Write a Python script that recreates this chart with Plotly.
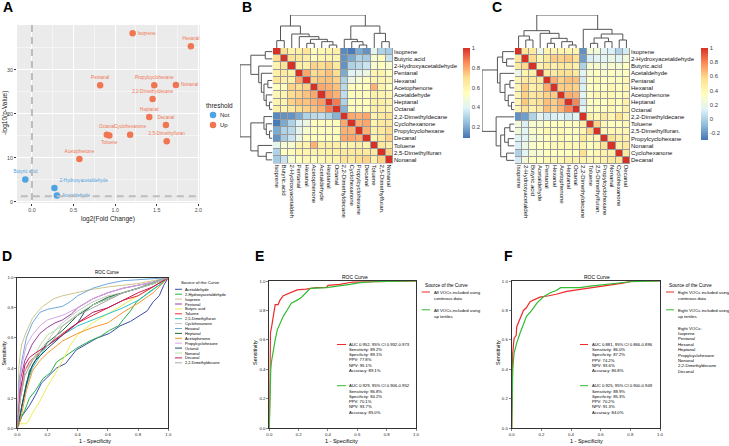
import math
import plotly.graph_objects as go

W, H = 729, 446
FONT = "Liberation Sans, Arial, sans-serif"

# ---------------- Panel A : volcano ----------------
vol_names = ["Isoprene", "Hexanal", "Pentanal", "Propylcyclohexane", "Nonanal",
             "2,2-Dimethyldecane", "Heptanal", "Decanal", "Octanal", "Toluene",
             "Cyclohexanone", "2,5-Dimethylfuran", "Acetophenone", "Butyric acid",
             "2-Hydroxyacetaldehyde", "Acetaldehyde"]
vol_log2fc = [1.21, 1.91, 0.82, 1.47, 1.73, 1.45, 1.41, 1.61, 0.90, 0.93,
              1.18, 1.62, 0.57, -0.08, 0.27, 0.30]
vol_neglog10p = [38.3, 35.4, 26.5, 26.5, 26.6, 23.4, 19.3, 17.5, 15.3, 15.1,
                 15.3, 13.8, 9.75, 5.1, 3.2, 1.5]
vol_threshold = ["Up"] * 13 + ["Not"] * 3
fc_cutoff = 0.0
p_cutoff = 0.05
vol_ticks_x = [0, 0.5, 1.0, 1.5, 2.0]
vol_ticks_y = [0, 10, 20, 30]

# ---------------- Panel B : correlation (continuous) ----------------
b_labels = ["Isoprene", "Butyric.acid", "2-Hydroxyacetaldehyde", "Pentanal", "Hexanal",
            "Acetophenone", "Acetaldehyde", "Heptanal", "Octanal", "2,2-Dimethyldecane",
            "Cyclohexanone", "Propylcyclohexane", "Decanal", "Toluene", "2,5-Dimethylfuran",
            "Nonanal"]
b_col_labels = ["Isoprene", "Butyric.acid", "2-Hydroxyacetaldeh", "Pentanal", "Hexanal",
                "Acetophenone", "Acetaldehyde", "Heptanal", "Octanal", "2,2-Dimethyldecane",
                "Cyclohexanone", "Propylcyclohexane", "Decanal", "Toluene", "2,5-Dimethylfuran.",
                "Nonanal"]
b_upper = [
    [0.70, 0.60, 0.62, 0.67, 0.55, 0.58, 0.60, 0.62, 0.13, 0.10, 0.20, 0.15, 0.42, 0.30, 0.28],
    [0.68, 0.65, 0.62, 0.55, 0.60, 0.60, 0.60, 0.15, 0.20, 0.30, 0.28, 0.50, 0.55, 0.35],
    [0.62, 0.62, 0.72, 0.70, 0.72, 0.65, 0.15, 0.30, 0.32, 0.35, 0.50, 0.55, 0.50],
    [0.80, 0.70, 0.72, 0.75, 0.70, 0.20, 0.40, 0.42, 0.45, 0.60, 0.60, 0.55],
    [0.72, 0.75, 0.75, 0.72, 0.30, 0.45, 0.50, 0.55, 0.60, 0.60, 0.58],
    [0.80, 0.78, 0.75, 0.32, 0.55, 0.55, 0.55, 0.78, 0.60, 0.55],
    [0.82, 0.78, 0.33, 0.55, 0.55, 0.55, 0.62, 0.60, 0.58],
    [0.88, 0.30, 0.55, 0.55, 0.55, 0.62, 0.62, 0.60],
    [0.22, 0.55, 0.55, 0.55, 0.62, 0.62, 0.60],
    [0.80, 0.78, 0.80, 0.60, 0.65, 0.68],
    [0.78, 0.80, 0.60, 0.65, 0.65],
    [0.78, 0.62, 0.65, 0.70],
    [0.60, 0.65, 0.72],
    [0.65, 0.62],
    [0.72],
]
b_zmin, b_zmax = 0.09, 1.0
b_cbar_ticks = [0.2, 0.4, 0.6, 0.8, 1.0]
b_cbar_text = ["0.2", "0.4", "0.6", "0.8", "1"]
# dendrogram merges: (a, b, height); negative = earlier merge (-(k+1))
b_dendro = [
    (0, 1, 22), (7, 8, 9), (6, -2, 19), (4, 5, 14), (-4, -3, 26), (3, -5, 34),
    (2, -6, 42), (-1, -7, 66), (11, 12, 9), (10, -9, 19), (9, -10, 26),
    (14, 15, 19), (13, -12, 44), (-11, -13, 66), (-8, -14, 99),
]

# ---------------- Panel C : correlation (tertiles) ----------------
c_labels = ["Isoprene", "2-Hydroxyacetaldehyde", "Butyric.acid", "Acetaldehyde", "Pentanal",
            "Hexanal", "Acetophenone", "Heptanal", "Octanal", "2,2-Dimethyldecane", "Toluene",
            "2,5-Dimethylfuran.", "Propylcyclohexane", "Nonanal", "Cyclohexanone", "Decanal"]
c_col_labels = ["Isoprene", "2-Hydroxyacetaldeh", "Butyric.acid", "Acetaldehyde", "Pentanal",
                "Hexanal", "Acetophenone", "Heptanal", "Octanal", "2,2-Dimethyldecane", "Toluene",
                "2,5-Dimethylfuran.", "Propylcyclohexane", "Nonanal", "Cyclohexanone", "Decanal"]
c_upper = [
    [0.52, 0.50, 0.20, 0.42, 0.42, 0.42, 0.42, 0.42, -0.22, 0.25, 0.25, 0.15, 0.12, 0.00, 0.10],
    [0.58, 0.42, 0.50, 0.62, 0.60, 0.63, 0.55, -0.18, 0.12, 0.15, 0.15, 0.20, 0.15, 0.25],
    [0.45, 0.50, 0.45, 0.50, 0.50, 0.45, 0.00, 0.30, 0.30, 0.25, 0.30, 0.28, 0.35],
    [0.50, 0.50, 0.55, 0.55, 0.50, 0.15, 0.30, 0.35, 0.30, 0.35, 0.30, 0.35],
    [0.70, 0.60, 0.65, 0.65, 0.10, 0.35, 0.40, 0.35, 0.35, 0.35, 0.40],
    [0.62, 0.62, 0.60, 0.12, 0.35, 0.35, 0.35, 0.40, 0.35, 0.40],
    [0.70, 0.68, 0.15, 0.35, 0.40, 0.40, 0.40, 0.35, 0.40],
    [0.80, 0.10, 0.35, 0.35, 0.35, 0.40, 0.35, 0.45],
    [0.15, 0.35, 0.35, 0.35, 0.40, 0.35, 0.45],
    [0.45, 0.40, 0.50, 0.42, 0.55, 0.42],
    [0.60, 0.40, 0.35, 0.35, 0.40],
    [0.40, 0.40, 0.40, 0.40],
    [0.55, 0.45, 0.45],
    [0.45, 0.50],
    [0.50],
]
c_zmin, c_zmax = -0.3, 1.0
c_cbar_ticks = [-0.2, 0, 0.2, 0.4, 0.6, 0.8, 1.0]
c_cbar_text = ["-0.2", "0", "0.2", "0.4", "0.6", "0.8", "1"]
c_dendro = [
    (1, 2, 24), (0, -1, 36), (4, 5, 14), (7, 8, 9), (6, -4, 19), (-3, -5, 29),
    (3, -6, 44), (-2, -7, 52), (10, 11, 14), (12, 13, 19), (-9, -10, 30),
    (14, 15, 24), (-11, -12, 42), (9, -13, 56), (-8, -14, 99),
]

# ---------------- Panel D : single-VOC ROC curves ----------------
roc_d_names = ["Acetaldehyde", "2-Hydroxyacetaldehyde", "Isoprene", "Pentanal", "Butyric acid",
               "Toluene", "2,5-Dimethylfuran", "Cyclohexanone", "Hexanal", "Heptanal",
               "Acetophenone", "Propylcyclohexane", "Octanal", "Nonanal", "Decanal",
               "2,2-Dimethyldecane"]
roc_d_fpr = [
    [0, 0.03, 0.08, 0.12, 0.16, 0.21, 0.26, 0.32, 0.39, 0.46, 0.53, 0.61, 0.68, 0.75, 0.81, 0.86, 0.90, 0.94, 0.97, 1],
    [0, 0.02, 0.05, 0.08, 0.12, 0.17, 0.22, 0.26, 0.32, 0.39, 0.48, 0.55, 0.61, 0.67, 0.70, 0.75, 0.79, 0.84, 0.88, 0.94, 1],
    [0, 0.005, 0.01, 0.02, 0.03, 0.06, 0.08, 0.10, 0.14, 0.17, 0.24, 0.30, 0.39, 0.48, 0.61, 0.70, 0.79, 0.90, 1],
    [0, 0.01, 0.02, 0.05, 0.08, 0.10, 0.15, 0.20, 0.25, 0.30, 0.36, 0.40, 0.50, 0.60, 0.70, 0.80, 0.90, 1],
    [0, 0.02, 0.06, 0.08, 0.10, 0.15, 0.20, 0.25, 0.30, 0.35, 0.40, 0.50, 0.60, 0.70, 0.80, 0.90, 1],
    [0, 0.01, 0.02, 0.05, 0.08, 0.12, 0.15, 0.20, 0.30, 0.40, 0.50, 0.60, 0.70, 0.80, 0.90, 1],
    [0, 0.02, 0.03, 0.06, 0.10, 0.15, 0.20, 0.30, 0.40, 0.50, 0.60, 0.70, 0.80, 0.90, 1],
    [0, 0.01, 0.02, 0.05, 0.10, 0.15, 0.20, 0.25, 0.30, 0.40, 0.50, 0.60, 0.70, 0.80, 0.90, 1],
    [0, 0.005, 0.01, 0.03, 0.06, 0.10, 0.15, 0.20, 0.26, 0.30, 0.35, 0.40, 0.50, 0.60, 0.70, 0.85, 1],
    [0, 0.02, 0.03, 0.06, 0.10, 0.15, 0.20, 0.30, 0.40, 0.50, 0.60, 0.70, 0.80, 0.90, 1],
    [0, 0.02, 0.03, 0.06, 0.10, 0.15, 0.20, 0.30, 0.40, 0.50, 0.60, 0.70, 0.80, 0.90, 1],
    [0, 0.005, 0.01, 0.03, 0.06, 0.10, 0.15, 0.20, 0.30, 0.40, 0.50, 0.60, 0.70, 0.80, 0.90, 1],
    [0, 0.01, 0.02, 0.05, 0.08, 0.12, 0.20, 0.30, 0.40, 0.45, 0.50, 0.60, 0.70, 0.80, 0.90, 1],
    [0, 0.01, 0.02, 0.05, 0.10, 0.15, 0.20, 0.30, 0.40, 0.50, 0.60, 0.70, 0.80, 0.90, 1],
    [0, 0.01, 0.02, 0.05, 0.08, 0.12, 0.20, 0.30, 0.40, 0.50, 0.60, 0.70, 0.80, 0.90, 1],
    [0, 0.01, 0.02, 0.05, 0.10, 0.15, 0.20, 0.25, 0.30, 0.40, 0.50, 0.60, 0.70, 0.80, 0.90, 1],
]
roc_d_tpr = [
    [0, 0.08, 0.15, 0.22, 0.30, 0.35, 0.40, 0.43, 0.52, 0.56, 0.60, 0.63, 0.68, 0.71, 0.75, 0.78, 0.84, 0.88, 0.95, 1],
    [0, 0.06, 0.12, 0.20, 0.25, 0.33, 0.37, 0.44, 0.48, 0.53, 0.58, 0.61, 0.65, 0.68, 0.72, 0.78, 0.84, 0.88, 0.91, 0.95, 1],
    [0, 0.25, 0.40, 0.50, 0.56, 0.64, 0.68, 0.73, 0.78, 0.81, 0.86, 0.88, 0.90, 0.92, 0.94, 0.95, 0.96, 0.98, 1],
    [0, 0.20, 0.32, 0.45, 0.52, 0.56, 0.63, 0.67, 0.70, 0.72, 0.76, 0.80, 0.86, 0.90, 0.93, 0.95, 0.97, 1],
    [0, 0.03, 0.03, 0.06, 0.10, 0.18, 0.28, 0.36, 0.45, 0.55, 0.62, 0.70, 0.76, 0.82, 0.88, 0.94, 1],
    [0, 0.12, 0.20, 0.38, 0.44, 0.48, 0.50, 0.55, 0.63, 0.70, 0.75, 0.80, 0.85, 0.88, 0.94, 1],
    [0, 0.08, 0.15, 0.28, 0.40, 0.48, 0.55, 0.62, 0.68, 0.72, 0.76, 0.80, 0.85, 0.92, 1],
    [0, 0.15, 0.25, 0.38, 0.45, 0.52, 0.58, 0.65, 0.70, 0.78, 0.84, 0.88, 0.90, 0.93, 0.96, 1],
    [0, 0.20, 0.30, 0.45, 0.60, 0.70, 0.77, 0.79, 0.80, 0.81, 0.84, 0.88, 0.93, 0.96, 0.98, 0.99, 1],
    [0, 0.10, 0.15, 0.30, 0.42, 0.50, 0.57, 0.65, 0.75, 0.82, 0.87, 0.90, 0.93, 0.97, 1],
    [0, 0.05, 0.10, 0.25, 0.38, 0.45, 0.50, 0.58, 0.63, 0.67, 0.70, 0.77, 0.83, 0.90, 1],
    [0, 0.15, 0.25, 0.42, 0.55, 0.62, 0.68, 0.72, 0.75, 0.80, 0.86, 0.90, 0.93, 0.95, 0.97, 1],
    [0, 0.05, 0.10, 0.25, 0.38, 0.45, 0.53, 0.62, 0.70, 0.78, 0.82, 0.86, 0.90, 0.93, 0.96, 1],
    [0, 0.12, 0.20, 0.35, 0.45, 0.55, 0.62, 0.68, 0.76, 0.82, 0.86, 0.90, 0.93, 0.96, 1],
    [0, 0.15, 0.25, 0.42, 0.47, 0.50, 0.55, 0.62, 0.70, 0.77, 0.80, 0.85, 0.90, 0.94, 1],
    [0, 0.12, 0.20, 0.35, 0.45, 0.50, 0.55, 0.60, 0.68, 0.75, 0.80, 0.85, 0.90, 0.93, 0.97, 1],
]

# ---------------- Panel E : all VOCs model ROC ----------------
roc_e_names = ["All VOCs included using continous data", "All VOCs included using up tertiles"]
roc_e_fpr = [
    [0, 0.004, 0.008, 0.016, 0.027, 0.04, 0.06, 0.073, 0.095, 0.14, 0.19, 0.25, 0.32, 0.39, 0.40, 0.48, 0.57, 0.71, 0.91, 1],
    [0, 0.005, 0.01, 0.016, 0.027, 0.04, 0.055, 0.073, 0.095, 0.12, 0.15, 0.19, 0.22, 0.25, 0.28, 0.39, 0.48, 0.55, 0.62, 0.71, 1],
]
roc_e_tpr = [
    [0, 0.62, 0.65, 0.69, 0.76, 0.84, 0.84, 0.87, 0.90, 0.92, 0.94, 0.945, 0.955, 0.957, 0.97, 0.977, 0.993, 0.995, 0.995, 1],
    [0, 0.28, 0.40, 0.46, 0.53, 0.60, 0.67, 0.71, 0.76, 0.80, 0.85, 0.87, 0.89, 0.92, 0.95, 0.955, 0.966, 0.977, 0.989, 0.995, 1],
]
roc_e_stats = [
    ["AUC 0.952, 95% CI 0.932-0.973", "Sensitivity: 89.2%", "Specificity: 89.1%",
     "PPV: 77.8%", "NPV: 95.1%", "Accuracy: 89.1%"],
    ["AUC 0.929, 95% CI 0.906-0.952", "Sensitivity: 86.8%", "Specificity: 84.2%",
     "PPV: 70.1%", "NPV: 93.7%", "Accuracy: 85.0%"],
]

# ---------------- Panel F : eight VOCs model ROC ----------------
roc_f_names = ["Eight VOCs included using continous data", "Eight VOCs included using up tertiles"]
roc_f_fpr = [
    [0, 0.002, 0.007, 0.016, 0.03, 0.034, 0.052, 0.067, 0.079, 0.10, 0.124, 0.146, 0.19, 0.25, 0.30, 0.37, 0.44, 0.50, 0.57, 0.66, 0.75, 0.82, 1],
    [0, 0.002, 0.007, 0.016, 0.034, 0.056, 0.079, 0.10, 0.135, 0.17, 0.21, 0.26, 0.30, 0.33, 0.39, 0.46, 0.53, 0.62, 0.71, 0.80, 1],
]
roc_f_tpr = [
    [0, 0.46, 0.51, 0.61, 0.63, 0.69, 0.735, 0.76, 0.80, 0.82, 0.86, 0.87, 0.89, 0.90, 0.91, 0.93, 0.94, 0.95, 0.96, 0.97, 0.985, 1.0, 1],
    [0, 0.28, 0.40, 0.51, 0.58, 0.645, 0.71, 0.76, 0.80, 0.85, 0.89, 0.92, 0.935, 0.955, 0.955, 0.955, 0.965, 0.975, 0.985, 0.995, 1],
]
roc_f_stats = [
    ["AUC 0.881, 95% CI 0.866-0.896", "Sensitivity: 86.0%", "Specificity: 87.2%",
     "PPV: 74.2%", "NPV: 93.6%", "Accuracy: 86.8%"],
    ["AUC 0.925, 95% CI 0.900-0.949", "Sensitivity: 88.9%", "Specificity: 85.3%",
     "PPV: 70.2%", "NPV: 91.3%", "Accuracy: 84.0%"],
]
eight_vocs = ["Isoprene", "Pentanal", "Hexanal", "Heptanal", "Propylcyclohexane",
              "Nonanal", "2,2-Dimethyldecane", "Decanal"]

# =============== styles ===============
UP_COL, NOT_COL = "#F07652", "#4EA3E2"
RDYLBU = ["#4575B4", "#91BFDB", "#E0F3F8", "#FFFFBF", "#FEE090", "#FC8D59", "#D73027"]
CSCALE = [[i / 6, c] for i, c in enumerate(RDYLBU)]
D_COLORS = ["#3B4BA8", "#22B04A", "#CFC48A", "#9A3D9C", "#EDEB55", "#EC2B3A", "#32C3C8",
            "#C4C4C4", "#6FA8DC", "#1E6B3A", "#F7962B", "#D9A6E6", "#1D4F6B", "#B7DFA3",
            "#C2185B", "#A8A8A8"]
ROC_RED, ROC_GREEN = "#EE2A2A", "#33BB33"


def fx(p):
    return p / W


def fy(p):
    return 1 - p / H


def full_matrix(upper):
    n = len(upper) + 1
    m = [[1.0] * n for _ in range(n)]
    for i, row in enumerate(upper):
        for k, v in enumerate(row):
            j = i + 1 + k
            m[i][j] = v
            m[j][i] = v
    return m


def dendro_xy(merges):
    pos, hts = {}, {}
    xs, ys = [], []

    def get(node):
        if node >= 0:
            return node, 0
        return pos[node], hts[node]
    for k, (a, b, h) in enumerate(merges):
        xa, ha = get(a)
        xb, hb = get(b)
        xs += [xa, xa, xb, xb, None]
        ys += [ha, h, h, hb, None]
        pos[-(k + 1)] = (xa + xb) / 2
        hts[-(k + 1)] = h
    return xs, ys


fig = go.Figure()
ann = []


def T(text, x, y, size, anchor="left", angle=0, color="#000000", bold=False, yanchor="middle"):
    ann.append(dict(text=("<b>%s</b>" % text) if bold else text, x=fx(x), y=fy(y),
                    xref="paper", yref="paper", xanchor=anchor, yanchor=yanchor,
                    textangle=angle, showarrow=False,
                    font=dict(size=size, color=color, family=FONT)))


# ---------- Panel A ----------
label_pos = ["middle right", "top center", "top center", "top center", "middle right",
             "top center", "top center", "top center", "top center", "bottom center",
             "top center", "top center", "top center", "top center", "top right", "middle right"]
for grp, col in (("Not", NOT_COL), ("Up", UP_COL)):
    idx = [i for i, t in enumerate(vol_threshold) if t == grp]
    fig.add_trace(go.Scatter(
        x=[vol_log2fc[i] for i in idx], y=[vol_neglog10p[i] for i in idx],
        mode="markers+text", text=[vol_names[i] for i in idx],
        textposition=[label_pos[i] for i in idx],
        textfont=dict(size=4.6, color=col, family=FONT),
        marker=dict(size=6.5, color=col), xaxis="x", yaxis="y", cliponaxis=False))
p_line = -math.log10(p_cutoff)
fig.add_trace(go.Scatter(x=[fc_cutoff, fc_cutoff], y=[-5, 50], mode="lines",
                         line=dict(color="#BDBDBD", width=2, dash="7px,5px"), xaxis="x", yaxis="y"))
fig.add_trace(go.Scatter(x=[-1, 3], y=[p_line, p_line], mode="lines",
                         line=dict(color="#BDBDBD", width=2, dash="7px,5px"), xaxis="x", yaxis="y"))

# ---------- Panel B heatmap ----------
b_mat = full_matrix(b_upper)
fig.add_trace(go.Heatmap(z=b_mat, x=list(range(16)), y=list(range(16)), colorscale=CSCALE,
                         zmin=b_zmin, zmax=b_zmax, xgap=1, ygap=1, xaxis="x2", yaxis="y2",
                         colorbar=dict(x=fx(463), xanchor="left", y=fy(48), yanchor="top",
                                       len=90 / H, lenmode="fraction", thickness=7,
                                       outlinewidth=0, tickvals=b_cbar_ticks, ticktext=b_cbar_text,
                                       ticks="", tickfont=dict(size=6, family=FONT), xpad=0, ypad=0)))
bx, by = dendro_xy(b_dendro)
fig.add_trace(go.Scatter(x=bx, y=by, mode="lines", line=dict(color="#555555", width=1),
                         xaxis="x3", yaxis="y3"))
fig.add_trace(go.Scatter(x=by, y=bx, mode="lines", line=dict(color="#555555", width=1),
                         xaxis="x4", yaxis="y4"))

# ---------- Panel C heatmap ----------
c_mat = full_matrix(c_upper)
fig.add_trace(go.Heatmap(z=c_mat, x=list(range(16)), y=list(range(16)), colorscale=CSCALE,
                         zmin=c_zmin, zmax=c_zmax, xgap=1, ygap=1, xaxis="x5", yaxis="y5",
                         colorbar=dict(x=fx(701), xanchor="left", y=fy(48), yanchor="top",
                                       len=92 / H, lenmode="fraction", thickness=7,
                                       outlinewidth=0, tickvals=c_cbar_ticks, ticktext=c_cbar_text,
                                       ticks="", tickfont=dict(size=6, family=FONT), xpad=0, ypad=0)))
cx, cy = dendro_xy(c_dendro)
fig.add_trace(go.Scatter(x=cx, y=cy, mode="lines", line=dict(color="#555555", width=1),
                         xaxis="x6", yaxis="y6"))
fig.add_trace(go.Scatter(x=cy, y=cx, mode="lines", line=dict(color="#555555", width=1),
                         xaxis="x7", yaxis="y7"))

# ---------- Panel D ----------
for i, name in enumerate(roc_d_names):
    fig.add_trace(go.Scatter(x=roc_d_fpr[i], y=roc_d_tpr[i], mode="lines", name=name,
                             line=dict(color=D_COLORS[i], width=1), xaxis="x8", yaxis="y8"))
# ---------- Panel E ----------
for i, col in enumerate((ROC_RED, ROC_GREEN)):
    fig.add_trace(go.Scatter(x=roc_e_fpr[i], y=roc_e_tpr[i], mode="lines", name=roc_e_names[i],
                             line=dict(color=col, width=1.2), xaxis="x9", yaxis="y9"))
# ---------- Panel F ----------
for i, col in enumerate((ROC_RED, ROC_GREEN)):
    fig.add_trace(go.Scatter(x=roc_f_fpr[i], y=roc_f_tpr[i], mode="lines", name=roc_f_names[i],
                             line=dict(color=col, width=1.2), xaxis="x10", yaxis="y10"))

# ---------- custom legend glyphs on pixel overlay axis ----------
fig.add_trace(go.Scatter(x=[213, 213], y=[115, 125], mode="markers",
                         marker=dict(size=6.5, color=[NOT_COL, UP_COL]), xaxis="x11", yaxis="y11"))
for i in range(len(roc_d_names)):
    yy = 289.3 + 4.9 * i
    fig.add_trace(go.Scatter(x=[175, 182], y=[yy, yy], mode="lines",
                             line=dict(color=D_COLORS[i], width=1), xaxis="x11", yaxis="y11"))
for (lx0, lx1, sx0, sx1) in ((421.7, 430, 337, 346), (666, 674, 580, 588)):
    for i, col in enumerate((ROC_RED, ROC_GREEN)):
        yy = 292.0 + 17.8 * i
        fig.add_trace(go.Scatter(x=[lx0, lx1], y=[yy, yy], mode="lines",
                                 line=dict(color=col, width=1), xaxis="x11", yaxis="y11"))
        ys = 344.5 + 41.2 * i
        fig.add_trace(go.Scatter(x=[sx0, sx1], y=[ys, ys], mode="lines",
                                 line=dict(color=col, width=1), xaxis="x11", yaxis="y11"))

# ---------- texts ----------
for letter, x, y in (("A", 1, 7), ("B", 240, 7), ("C", 490, 7), ("D", 0, 256), ("E", 253, 256), ("F", 502, 256)):
    T(letter, x, y, 14, bold=True)
T("-log10(p-Value)", 5, 113, 6.5, anchor="center", angle=-90, color="#222")
T("log2(Fold Change)", 108, 218.5, 6.5, anchor="center", color="#222")
T("threshold", 204, 105, 6.5, color="#222")
T("Not", 218, 115, 6, color="#222")
T("Up", 218, 125, 6, color="#222")

T("ROC Curve", 107, 272.3, 4.6, anchor="center")
T("Sensitivity", 3.5, 353, 5.4, anchor="center", angle=-90)
T("1 - Specificity", 95, 440.5, 5.4, anchor="center")
T("Source of the Curve", 179, 282.3, 4.3)
for i, name in enumerate(roc_d_names):
    T(name, 183.3, 289.3 + 4.9 * i, 3.9)

T("ROC Curve", 355, 276.7, 5, anchor="center")
T("Sensitivity", 255, 353, 5.5, anchor="center", angle=-90)
T("1 - Specificity", 341.7, 440.5, 5.5, anchor="center")
T("Source of the Curve", 422.7, 285.7, 4.8)
T("All VOCs included using", 431.7, 292.7, 4.3)
T("continous data", 431.7, 298.7, 4.3)
T("All VOCs included using", 431.7, 310.5, 4.3)
T("up tertiles", 431.7, 316.5, 4.3)
for g in range(2):
    for k, line in enumerate(roc_e_stats[g]):
        T(line, 347.3, 344 + 41.7 * g + 5.3 * k, 4.2)

T("ROC Curve", 597, 276.7, 5, anchor="center")
T("Sensitivity", 498, 353, 5.5, anchor="center", angle=-90)
T("1 - Specificity", 586.7, 440.5, 5.5, anchor="center")
T("Source of the Curve", 666.7, 285.7, 4.8)
T("Eight VOCs included using", 676, 292.7, 4.3)
T("continous data", 676, 298.7, 4.3)
T("Eight VOCs included using", 676, 310.5, 4.3)
T("up tertiles", 676, 316.5, 4.3)
T("Eight VOCs:", 676, 328.3, 4.3)
for k, v in enumerate(eight_vocs):
    T(v, 676, 333.6 + 5.35 * k, 4.3)
for g in range(2):
    for k, line in enumerate(roc_f_stats[g]):
        T(line, 590, 344.3 + 41.4 * g + 5.3 * k, 4.2)


# ---------- axes ----------
def roc_axes(xd, yd):
    common = dict(range=[0, 1], showline=True, mirror=True, linecolor="#333", linewidth=1,
                  ticks="outside", ticklen=2, tickcolor="#333", tickwidth=0.6, dtick=0.2, tick0=0,
                  tickformat=".1f", tickfont=dict(size=4.3, family=FONT, color="#222"),
                  showgrid=False, zeroline=False, fixedrange=True, automargin=False)
    return dict(domain=[fx(xd[0]), fx(xd[1])], **common), \
        dict(domain=[fy(yd[1]), fy(yd[0])], **common)


hm_tick = dict(size=6, family=FONT, color="#111")
hid = dict(visible=False, automargin=False, showgrid=False, zeroline=False)
layout = dict(
    template="none",
    width=W, height=H, margin=dict(l=0, r=0, t=0, b=0, pad=0, autoexpand=False), showlegend=False,
    paper_bgcolor="white", plot_bgcolor="rgba(0,0,0,0)", font=dict(family=FONT),
    xaxis=dict(domain=[fx(17), fx(200)], range=[-0.18, 2.02], tickvals=vol_ticks_x,
               ticktext=["0.0", "0.5", "1.0", "1.5", "2.0"], showgrid=True, gridcolor="white",
               gridwidth=1, minor=dict(tickvals=[-0.25, 0.25, 0.75, 1.25, 1.75], showgrid=True,
                                       gridcolor="white", gridwidth=0.5, ticks=""),
               zeroline=False, ticks="outside", ticklen=2, tickcolor="#333", showline=False,
               tickfont=dict(size=5.3, color="#4D4D4D", family=FONT), anchor="y", automargin=False),
    yaxis=dict(domain=[fy(203), fy(25)], range=[-0.23, 40.2], tickvals=vol_ticks_y,
               showgrid=True, gridcolor="white", gridwidth=1,
               minor=dict(tickvals=[5, 15, 25, 35], showgrid=True, gridcolor="white",
                          gridwidth=0.5, ticks=""),
               zeroline=False, ticks="outside", ticklen=2, tickcolor="#333", showline=False,
               tickfont=dict(size=5.3, color="#4D4D4D", family=FONT), anchor="x", automargin=False),
    xaxis2=dict(domain=[fx(273), fx(393)], range=[-0.5, 15.5], tickvals=list(range(16)),
                ticktext=b_col_labels, tickangle=90, tickfont=hm_tick, ticks="",
                showgrid=False, zeroline=False, showline=False, anchor="y2", side="bottom",
                automargin=False),
    yaxis2=dict(domain=[fy(163.5), fy(48)], range=[15.5, -0.5], tickvals=list(range(16)),
                ticktext=b_labels, tickfont=hm_tick, ticks="", showgrid=False, zeroline=False,
                showline=False, anchor="x2", side="right", automargin=False),
    xaxis3=dict(domain=[fx(273), fx(393)], range=[-0.5, 15.5], anchor="y3", **hid),
    yaxis3=dict(domain=[fy(48), fy(15)], range=[0, 99], anchor="x3", **hid),
    xaxis4=dict(domain=[fx(240), fx(272.5)], range=[99, 0], anchor="y4", **hid),
    yaxis4=dict(domain=[fy(163.5), fy(48)], range=[15.5, -0.5], anchor="x4", **hid),
    xaxis5=dict(domain=[fx(515), fx(630)], range=[-0.5, 15.5], tickvals=list(range(16)),
                ticktext=c_col_labels, tickangle=90, tickfont=hm_tick, ticks="",
                showgrid=False, zeroline=False, showline=False, anchor="y5", side="bottom",
                automargin=False),
    yaxis5=dict(domain=[fy(164), fy(48)], range=[15.5, -0.5], tickvals=list(range(16)),
                ticktext=c_labels, tickfont=hm_tick, ticks="", showgrid=False, zeroline=False,
                showline=False, anchor="x5", side="right", automargin=False),
    xaxis6=dict(domain=[fx(515), fx(630)], range=[-0.5, 15.5], anchor="y6", **hid),
    yaxis6=dict(domain=[fy(48), fy(15)], range=[0, 99], anchor="x6", **hid),
    xaxis7=dict(domain=[fx(482), fx(514.5)], range=[99, 0], anchor="y7", **hid),
    yaxis7=dict(domain=[fy(164), fy(48)], range=[15.5, -0.5], anchor="x7", **hid),
    xaxis11=dict(domain=[0, 1], range=[0, W], anchor="y11", **hid),
    yaxis11=dict(domain=[0, 1], range=[H, 0], anchor="x11", **hid),
)
for n, (xd, yd) in zip((8, 9, 10), (((17.3, 168.3), (277.7, 428.3)),
                                     ((269.3, 416), (281, 428.3)),
                                     ((511.7, 660), (281, 428.3)))):
    xa, ya = roc_axes(xd, yd)
    xa["anchor"] = "y%d" % n
    ya["anchor"] = "x%d" % n
    layout["xaxis%d" % n] = xa
    layout["yaxis%d" % n] = ya

layout["annotations"] = ann
layout["shapes"] = [
    dict(type="rect", xref="x domain", yref="y domain", x0=0, x1=1, y0=0, y1=1,
         fillcolor="#EBEBEB", line=dict(width=0), layer="below"),
    dict(type="rect", xref="x2 domain", yref="y2 domain", x0=0, x1=1, y0=0, y1=1,
         fillcolor="#9A9A9A", line=dict(width=0), layer="below"),
    dict(type="rect", xref="x5 domain", yref="y5 domain", x0=0, x1=1, y0=0, y1=1,
         fillcolor="#9A9A9A", line=dict(width=0), layer="below"),
]
fig.update_layout(**layout)
fig.write_html("out.html", config={"displayModeBar": False, "staticPlot": True},
               post_script="document.body.style.margin='0px';document.body.style.overflow='hidden';")
